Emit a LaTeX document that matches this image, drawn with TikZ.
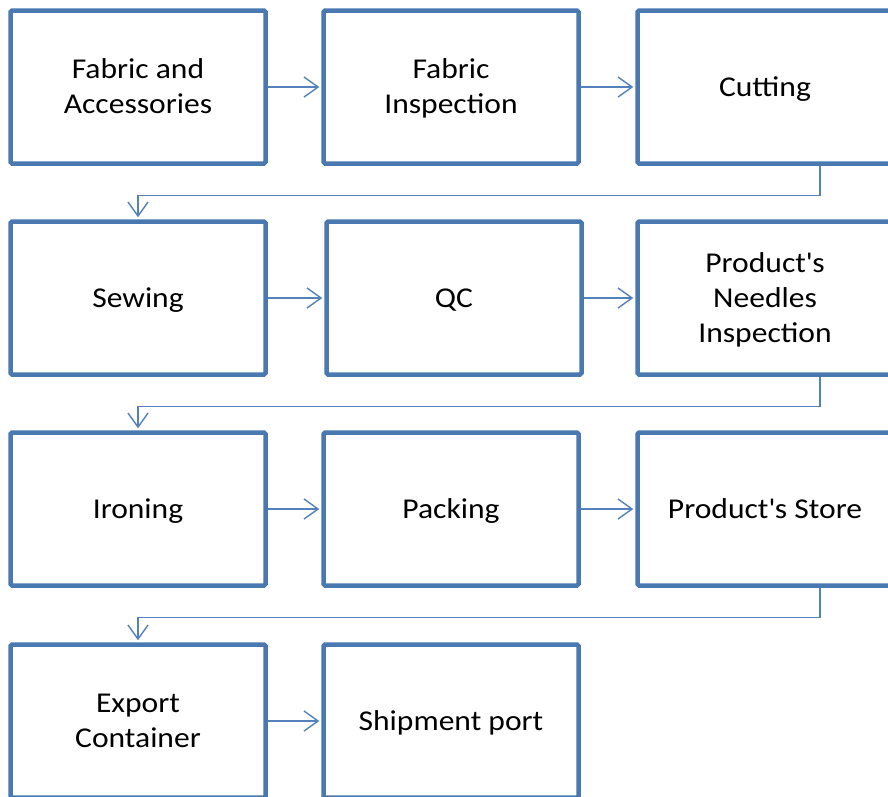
\documentclass[tikz,border=0pt]{standalone}
\usepackage{fontspec}
\setmainfont{Carlito}[FakeStretch=1.1]
\usetikzlibrary{arrows.meta,calc}
\definecolor{boxblue}{RGB}{74,120,176}
\definecolor{linkblue}{RGB}{82,129,188}
\newcommand{\apos}{\textquotesingle}
% fixed line box so every label sits at the same height
\newcommand{\ls}{\rule[-6pt]{0pt}{30pt}}
\begin{document}
\begin{tikzpicture}[x=1pt,y=1pt,
  stage/.style={draw=boxblue,line width=4.5pt,rounded corners=1.5pt,fill=white,
    minimum width=255pt,minimum height=153pt,inner sep=0pt,align=center,
    font=\fontsize{28.7}{35}\selectfont},
  link/.style={draw=linkblue,line width=1.4pt,
    -{Straight Barb[length=14pt,width=20pt,line width=1.4pt]},shorten >=2pt},
  wrap/.style={link,rounded corners=0pt}]
\useasboundingbox (0,0) rectangle (888,-796);
\clip (0,0) rectangle (888,-796);
\fill[white] (0,0) rectangle (888,-796);

% row 1
\node[stage] (fab) at (138,-87) {\ls Fabric and\\\ls Accessories};
\node[stage] (ins) at (451,-87) {\ls Fabric\\\ls Inspection};
\node[stage] (cut) at (765,-87) {\ls Cutting};
% row 2
\node[stage] (sew) at (138,-298) {\ls Sewing};
\node[stage] (qc)  at (454,-298) {\ls QC};
\node[stage] (ndl) at (765,-298) {\ls Product\apos s\\\ls Needles\\\ls Inspection};
% row 3
\node[stage] (iro) at (138,-509) {\ls Ironing};
\node[stage] (pak) at (451,-509) {\ls Packing};
\node[stage] (sto) at (765,-509) {\ls Product\apos s Store};
% row 4
\node[stage] (exp) at (138,-721) {\ls Export\\\ls Container};
\node[stage] (shp) at (451,-721) {\ls Shipment port};

% flow within each row
\draw[link] (fab.east) -- (ins.west);
\draw[link] (ins.east) -- (cut.west);
\draw[link] (sew.east) -- (qc.west);
\draw[link] (qc.east)  -- (ndl.west);
\draw[link] (iro.east) -- (pak.west);
\draw[link] (pak.east) -- (sto.west);
\draw[link] (exp.east) -- (shp.west);

% wrap from the end of one row to the start of the next
\draw[wrap] ([xshift=55pt]cut.south) -- ++(0,-30) -| (sew.north);
\draw[wrap] ([xshift=55pt]ndl.south) -- ++(0,-30) -| (iro.north);
\draw[wrap] ([xshift=55pt]sto.south) -- ++(0,-30) -| (exp.north);
\end{tikzpicture}
\end{document}
